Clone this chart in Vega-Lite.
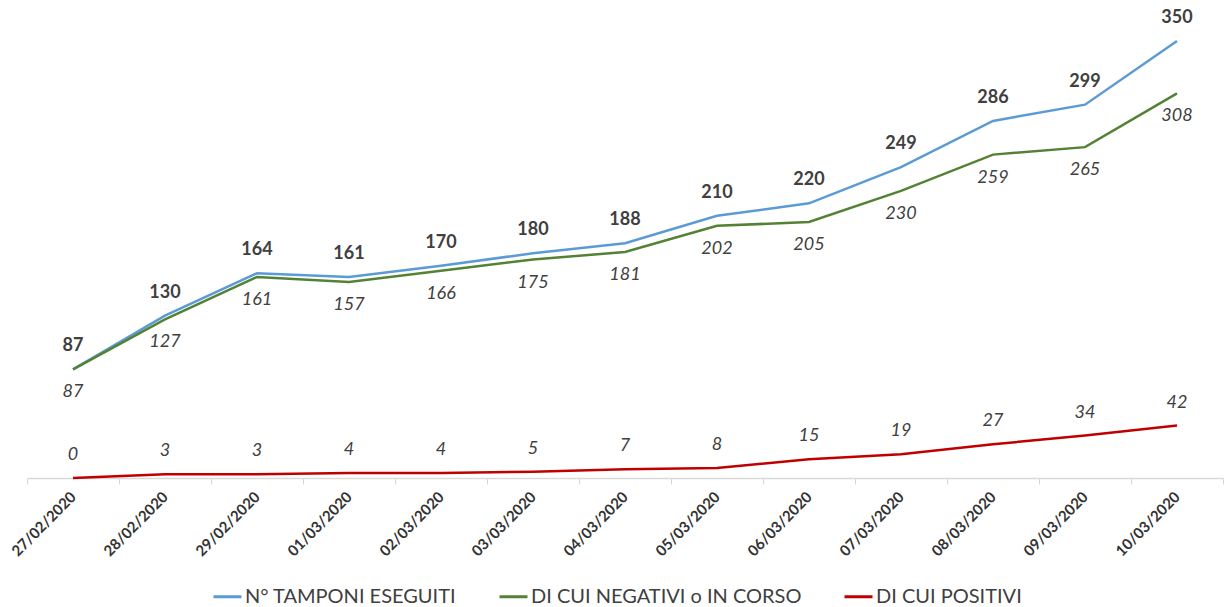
{
  "$schema": "https://vega.github.io/schema/vega-lite/v6.json",
  "width": 1196,
  "height": 437,
  "autosize": "none",
  "padding": {"left": 27, "top": 41, "right": 1, "bottom": 129},
  "background": "white",
  "config": {"view": {"stroke": null}, "font": "Lato"},
  "data": {"values": [
    {"date": "27/02/2020", "series": "N° TAMPONI ESEGUITI", "value": 87},
    {"date": "28/02/2020", "series": "N° TAMPONI ESEGUITI", "value": 130},
    {"date": "29/02/2020", "series": "N° TAMPONI ESEGUITI", "value": 164},
    {"date": "01/03/2020", "series": "N° TAMPONI ESEGUITI", "value": 161},
    {"date": "02/03/2020", "series": "N° TAMPONI ESEGUITI", "value": 170},
    {"date": "03/03/2020", "series": "N° TAMPONI ESEGUITI", "value": 180},
    {"date": "04/03/2020", "series": "N° TAMPONI ESEGUITI", "value": 188},
    {"date": "05/03/2020", "series": "N° TAMPONI ESEGUITI", "value": 210},
    {"date": "06/03/2020", "series": "N° TAMPONI ESEGUITI", "value": 220},
    {"date": "07/03/2020", "series": "N° TAMPONI ESEGUITI", "value": 249},
    {"date": "08/03/2020", "series": "N° TAMPONI ESEGUITI", "value": 286},
    {"date": "09/03/2020", "series": "N° TAMPONI ESEGUITI", "value": 299},
    {"date": "10/03/2020", "series": "N° TAMPONI ESEGUITI", "value": 350},
    {"date": "27/02/2020", "series": "DI CUI NEGATIVI o IN CORSO", "value": 87},
    {"date": "28/02/2020", "series": "DI CUI NEGATIVI o IN CORSO", "value": 127},
    {"date": "29/02/2020", "series": "DI CUI NEGATIVI o IN CORSO", "value": 161},
    {"date": "01/03/2020", "series": "DI CUI NEGATIVI o IN CORSO", "value": 157},
    {"date": "02/03/2020", "series": "DI CUI NEGATIVI o IN CORSO", "value": 166},
    {"date": "03/03/2020", "series": "DI CUI NEGATIVI o IN CORSO", "value": 175},
    {"date": "04/03/2020", "series": "DI CUI NEGATIVI o IN CORSO", "value": 181},
    {"date": "05/03/2020", "series": "DI CUI NEGATIVI o IN CORSO", "value": 202},
    {"date": "06/03/2020", "series": "DI CUI NEGATIVI o IN CORSO", "value": 205},
    {"date": "07/03/2020", "series": "DI CUI NEGATIVI o IN CORSO", "value": 230},
    {"date": "08/03/2020", "series": "DI CUI NEGATIVI o IN CORSO", "value": 259},
    {"date": "09/03/2020", "series": "DI CUI NEGATIVI o IN CORSO", "value": 265},
    {"date": "10/03/2020", "series": "DI CUI NEGATIVI o IN CORSO", "value": 308},
    {"date": "27/02/2020", "series": "DI CUI POSITIVI", "value": 0},
    {"date": "28/02/2020", "series": "DI CUI POSITIVI", "value": 3},
    {"date": "29/02/2020", "series": "DI CUI POSITIVI", "value": 3},
    {"date": "01/03/2020", "series": "DI CUI POSITIVI", "value": 4},
    {"date": "02/03/2020", "series": "DI CUI POSITIVI", "value": 4},
    {"date": "03/03/2020", "series": "DI CUI POSITIVI", "value": 5},
    {"date": "04/03/2020", "series": "DI CUI POSITIVI", "value": 7},
    {"date": "05/03/2020", "series": "DI CUI POSITIVI", "value": 8},
    {"date": "06/03/2020", "series": "DI CUI POSITIVI", "value": 15},
    {"date": "07/03/2020", "series": "DI CUI POSITIVI", "value": 19},
    {"date": "08/03/2020", "series": "DI CUI POSITIVI", "value": 27},
    {"date": "09/03/2020", "series": "DI CUI POSITIVI", "value": 34},
    {"date": "10/03/2020", "series": "DI CUI POSITIVI", "value": 42}
  ]},
  "encoding": {
    "x": {
      "field": "date", "type": "ordinal", "sort": null,
      "scale": {"type": "band", "paddingInner": 0, "paddingOuter": 0},
      "axis": {
        "title": null, "labelAngle": -45, "labelAlign": "right", "labelBaseline": "middle",
        "labelFontSize": 15, "labelFontWeight": "bold", "labelColor": "#333333",
        "labelPadding": 10, "tickBand": "extent", "tickSize": 6, "tickColor": "#d9d9d9",
        "domainColor": "#d9d9d9", "domainWidth": 1.5, "grid": false
      }
    },
    "y": {"field": "value", "type": "quantitative", "scale": {"domain": [0, 350], "nice": false}, "axis": null}
  },
  "layer": [
    {
      "mark": {"type": "line", "strokeWidth": 2.5},
      "encoding": {
        "color": {
          "field": "series", "type": "nominal",
          "scale": {"domain": ["N° TAMPONI ESEGUITI", "DI CUI NEGATIVI o IN CORSO", "DI CUI POSITIVI"], "range": ["#5B9BD5", "#548235", "#C00000"]},
          "legend": {
            "title": null, "orient": "none", "direction": "horizontal", "legendX": 185, "legendY": 540,
            "symbolType": "stroke", "symbolStrokeWidth": 3, "symbolSize": 784,
            "labelFontSize": 20, "labelColor": "#404040", "columnPadding": 36, "labelOffset": 2,
            "labelLimit": 0
          }
        }
      }
    },
    {
      "transform": [{"filter": "datum.series === 'N° TAMPONI ESEGUITI'"}],
      "mark": {"type": "text", "dy": -23, "fontSize": 18, "fontWeight": "bold", "color": "#404040"},
      "encoding": {"text": {"field": "value", "type": "quantitative"}}
    },
    {
      "transform": [{"filter": "datum.series === 'DI CUI NEGATIVI o IN CORSO'"}],
      "mark": {"type": "text", "dy": 23, "fontSize": 18, "fontStyle": "italic", "color": "#404040"},
      "encoding": {"text": {"field": "value", "type": "quantitative"}}
    },
    {
      "transform": [{"filter": "datum.series === 'DI CUI POSITIVI'"}],
      "mark": {"type": "text", "dy": -23, "fontSize": 18, "fontStyle": "italic", "color": "#404040"},
      "encoding": {"text": {"field": "value", "type": "quantitative"}}
    }
  ]
}
